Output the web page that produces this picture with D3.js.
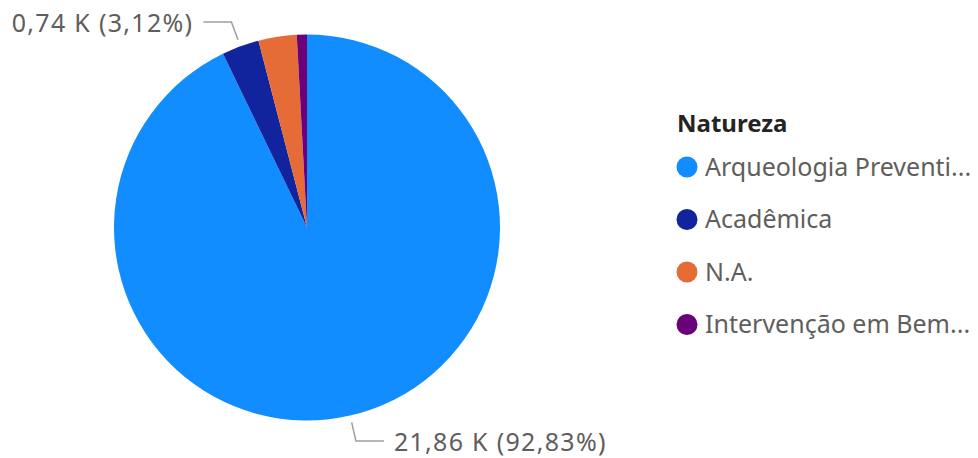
<!DOCTYPE html>
<html>
<head>
<meta charset="utf-8">
<script src="https://cdn.jsdelivr.net/npm/d3@7"></script>
<style>
  body { margin: 0; background: #fff; }
  svg { font-family: "Segoe UI", "Noto Sans", "Open Sans", sans-serif; }
</style>
</head>
<body>
<svg width="978" height="458"></svg>
<script>
// data (thousands)
var categories = ["Arqueologia Preventiva", "Acadêmica", "N.A.", "Intervenção em Bem Tombado"];
var legendLabels = ["Arqueologia Preventi...", "Acadêmica", "N.A.", "Intervenção em Bem..."];
var values = [21.86, 0.7353, 0.754, 0.199];
var colors = ["#118DFF", "#12239E", "#E66C37", "#6B007B"];
var labelled = ["Arqueologia Preventiva", "Acadêmica"];

var svg = d3.select("svg"),
  cx = 307, cy = 227.5, radius = 193;

var locale = d3.formatLocale({decimal: ",", thousands: ".", grouping: [3], currency: ["R$", ""]});
var fmtK = locale.format(".2f"),
  fmtPct = locale.format(".2%");

var total = d3.sum(values);
var data = categories.map(function (c, i) {
  return {name: c, value: values[i], color: colors[i]};
});

var pie = d3.pie()
  .sort(null)
  .value(function (d) { return d.value; });

var arc = d3.arc().innerRadius(0).outerRadius(radius);

var g = svg.append("g").attr("transform", "translate(" + cx + "," + cy + ")");
var arcs = pie(data);

g.selectAll("path.slice")
  .data(arcs)
  .enter().append("path")
  .attr("class", "slice")
  .attr("d", arc)
  .attr("fill", function (d) { return d.data.color; });

// Labels with leader lines, only for the slices that show one
var lab = arcs.filter(function (d) { return labelled.indexOf(d.data.name) >= 0; });

function polar(a, r) {
  return [Math.sin(a) * r, -Math.cos(a) * r];
}

lab.forEach(function (d) {
  var mid = (d.startAngle + d.endAngle) / 2;
  var p1 = polar(mid, radius + 7),
    p2 = polar(mid, radius + 26),
    side = p2[0] >= 0 ? 1 : -1,
    p3 = [p2[0] + side * 28, p2[1]];

  g.append("polyline")
    .attr("points", [p1, p2, p3].map(function (p) { return p.join(","); }).join(" "))
    .attr("fill", "none")
    .attr("stroke", "#A19F9D")
    .attr("stroke-width", 1.5);

  g.append("text")
    .attr("x", p3[0] + side * 10)
    .attr("y", p3[1] + 1)
    .attr("dy", "0.35em")
    .attr("text-anchor", side > 0 ? "start" : "end")
    .attr("fill", "#605E5C")
    .attr("font-size", 25)
    .attr("letter-spacing", 1.3)
    .text(fmtK(d.data.value) + " K (" + fmtPct(d.data.value / total) + ")");
});

// Legend
var legend = svg.append("g").attr("transform", "translate(677,0)");

legend.append("text")
  .attr("x", 0)
  .attr("y", 124)
  .attr("dy", "0.35em")
  .attr("font-size", 24)
  .attr("font-weight", "bold")
  .attr("fill", "#252423")
  .text("Natureza");

var item = legend.selectAll("g.item")
  .data(data)
  .enter().append("g")
  .attr("class", "item")
  .attr("transform", function (d, i) { return "translate(0," + (167 + i * 52.5) + ")"; });

item.append("circle")
  .attr("cx", 10)
  .attr("cy", 0)
  .attr("r", 10.5)
  .attr("fill", function (d) { return d.color; });

item.append("text")
  .attr("x", 28)
  .attr("y", 0)
  .attr("dy", "0.35em")
  .attr("font-size", 25)
  .attr("fill", "#605E5C")
  .text(function (d, i) { return legendLabels[i]; });
</script>
</body>
</html>
